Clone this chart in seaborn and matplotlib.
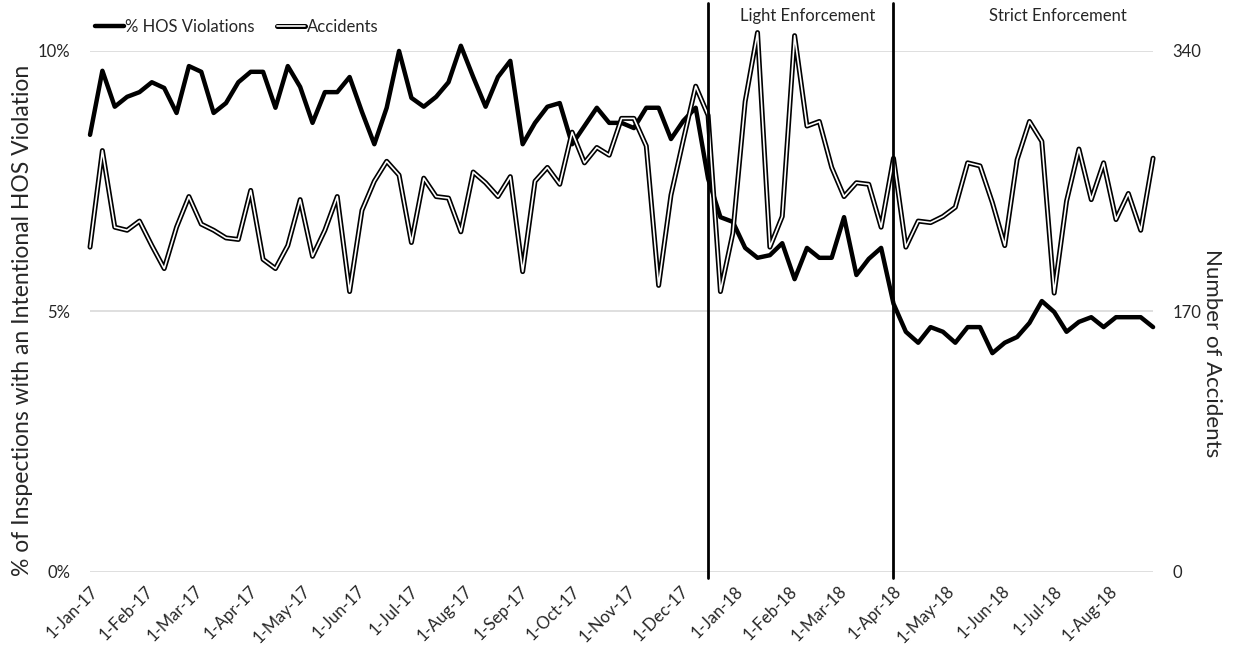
import numpy as np
import pandas as pd
import matplotlib
matplotlib.use('Agg')
import matplotlib.pyplot as plt
import matplotlib.patheffects as pe
import seaborn as sns

# ---------------- data ----------------
first_week = '2017-01-01'
n_weeks = 87
hos_pct = [8.39, 9.62, 8.93, 9.12, 9.21, 9.40, 9.29, 8.81, 9.71, 9.60,
           8.81, 9.00, 9.40, 9.60, 9.60, 8.91, 9.71, 9.31, 8.62, 9.21,
           9.21, 9.50, 8.83, 8.21, 8.91, 10.00, 9.10, 8.93, 9.12, 9.40,
           10.10, 9.50, 8.93, 9.50, 9.81, 8.21, 8.62, 8.93, 9.00, 8.21,
           8.56, 8.91, 8.62, 8.62, 8.52, 8.91, 8.91, 8.31, 8.66, 8.91,
           7.55, 6.81, 6.72, 6.22, 6.03, 6.08, 6.31, 5.62, 6.22, 6.03,
           6.03, 6.81, 5.70, 6.01, 6.22, 5.15, 4.61, 4.40, 4.70, 4.61,
           4.40, 4.70, 4.70, 4.20, 4.40, 4.51, 4.78, 5.20, 4.99, 4.61,
           4.80, 4.89, 4.70, 4.89, 4.89, 4.89, 4.70]
accidents = [212, 275, 225, 223, 229, 213, 198, 225, 245, 227,
             223, 218, 217, 249, 204, 198, 213, 243, 206, 223,
             245, 183, 236, 255, 268, 259, 215, 257, 245, 244,
             222, 261, 254, 245, 258, 196, 255, 264, 253, 287,
             267, 277, 272, 296, 296, 278, 187, 246, 282, 317,
             298, 183, 221, 307, 352, 212, 232, 350, 291, 294,
             264, 245, 254, 253, 225, 270, 212, 229, 228, 232,
             238, 267, 265, 241, 213, 269, 294, 281, 182, 242,
             276, 243, 267, 230, 247, 223, 270]
month_ticks = ['2017-01-01', '2017-02-01', '2017-03-01', '2017-04-01', '2017-05-01',
               '2017-06-01', '2017-07-01', '2017-08-01', '2017-09-01', '2017-10-01',
               '2017-11-01', '2017-12-01', '2018-01-01', '2018-02-01', '2018-03-01',
               '2018-04-01', '2018-05-01', '2018-06-01', '2018-07-01', '2018-08-01']
month_labels = ['1-Jan-17', '1-Feb-17', '1-Mar-17', '1-Apr-17', '1-May-17', '1-Jun-17',
                '1-Jul-17', '1-Aug-17', '1-Sep-17', '1-Oct-17', '1-Nov-17', '1-Dec-17',
                '1-Jan-18', '1-Feb-18', '1-Mar-18', '1-Apr-18', '1-May-18', '1-Jun-18',
                '1-Jul-18', '1-Aug-18']
left_ticks = [0, 5, 10]
left_labels = ['0%', '5%', '10%']
right_ticks = [0, 170, 340]
phase_starts = ['2017-12-17', '2018-04-01']
phase_names = ['Light Enforcement', 'Strict Enforcement']

weeks = pd.date_range(first_week, periods=n_weeks, freq='7D')
df = pd.DataFrame({'week': weeks, 'hos': hos_pct, 'acc': accidents})

# ---------------- style ----------------
sns.set_theme(style='white')
plt.rcParams['font.family'] = ['Lato', 'DejaVu Sans']
txt = '#262626'

fig = plt.figure(figsize=(12.4, 6.46), dpi=100)
ax = fig.add_axes([0.0726, 0.1146, 0.8573, 0.8065])
ax2 = ax.twinx()

sns.lineplot(data=df, x='week', y='hos', ax=ax, color='black', linewidth=3.2,
             label='% HOS Violations', legend=False, solid_joinstyle='round',
             clip_on=False, zorder=3)
sns.lineplot(data=df, x='week', y='acc', ax=ax2, color='white', linewidth=1.2,
             label='Accidents', legend=False, solid_joinstyle='round', clip_on=False,
             path_effects=[pe.Stroke(linewidth=3.6, foreground='black'), pe.Normal()],
             zorder=3)
for a in (ax, ax2):
    if a.get_legend() is not None:
        a.get_legend().remove()

ax.set_xlim(weeks[0], weeks[-1])
ax.set_ylim(0, 10)
ax2.set_ylim(0, 340)

ax.set_yticks(left_ticks)
ax.set_yticklabels(left_labels)
ax2.set_yticks(right_ticks)
ax2.set_yticklabels([str(v) for v in right_ticks])
ax.yaxis.grid(True, color='#d9d9d9', linewidth=1.2)
ax.xaxis.grid(False)
ax2.grid(False)
for a in (ax, ax2):
    for s in a.spines.values():
        s.set_visible(False)

ax.set_xticks(pd.to_datetime(month_ticks))
ax.set_xticklabels(month_labels, rotation=45, ha='right', rotation_mode='anchor')
ax.tick_params(axis='x', length=0, pad=8, labelsize=12, labelcolor=txt)
ax.tick_params(axis='y', length=0, pad=14, labelsize=12, labelcolor=txt)
ax2.tick_params(axis='y', length=0, pad=14, labelsize=12, labelcolor=txt)

ax.set_xlabel('')
ax.set_ylabel('% of Inspections with an Intentional HOS Violation', fontsize=16.5, color=txt)
ax.yaxis.set_label_coords(-0.054, 0.482)
ax2.set_ylabel('Number of Accidents', fontsize=16, color=txt, rotation=-90, va='bottom')
ax2.yaxis.set_label_coords(1.046, 0.42)

for d in phase_starts:
    ax2.axvline(pd.Timestamp(d), ymin=-0.012, ymax=1.092, color='black',
                linewidth=2, clip_on=False, zorder=5)

ax.text(0.675, 1.067, phase_names[0], transform=ax.transAxes, ha='center',
        va='center', fontsize=12, color=txt)
ax.text(0.91, 1.067, phase_names[1], transform=ax.transAxes, ha='center',
        va='center', fontsize=12, color=txt)

h1, l1 = ax.get_legend_handles_labels()
h2, l2 = ax2.get_legend_handles_labels()
fig.legend(h1 + h2, l1 + l2, loc='center left', bbox_to_anchor=(0.077, 0.958),
           ncol=2, frameon=False, handlelength=1.7, handletextpad=0.1,
           columnspacing=1.3, borderpad=0, borderaxespad=0, fontsize=12,
           labelcolor=txt)

fig.savefig('out.png', dpi=100)
